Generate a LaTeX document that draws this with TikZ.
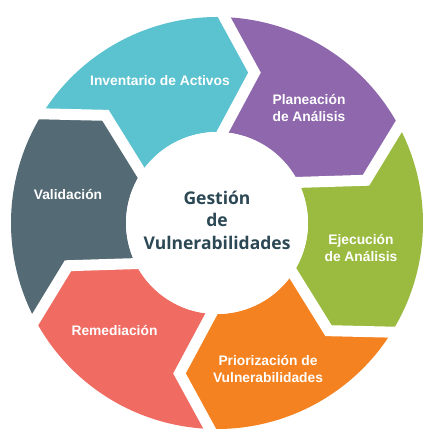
\documentclass[tikz,border=0pt]{standalone}
\usepackage{fontspec}
\setmainfont{Liberation Sans}
\newfontfamily\titlefont{Open Sans}
\usetikzlibrary{calc}
\definecolor{inventcol}{RGB}{91,194,208}
\definecolor{planecol}{RGB}{142,103,172}
\definecolor{ejeccol}{RGB}{155,187,64}
\definecolor{priocol}{RGB}{245,130,32}
\definecolor{remedcol}{RGB}{240,107,98}
\definecolor{validcol}{RGB}{84,106,116}
\definecolor{titlecol}{RGB}{44,72,85}
\begin{document}
\begin{tikzpicture}[x=1pt,y=1pt,
  seglbl/.style={text=white,align=center,font=\bfseries\fontsize{13.8}{17.5}\selectfont},
  gap/.style={white,line width=11pt,line join=miter,line cap=rect}]
\useasboundingbox (-217,-224) rectangle (213,223);
% ring segments, clockwise
\fill[inventcol] (148:206) arc[start angle=148,end angle=88,radius=206] -- (76:155) -- (86.5:91) arc[start angle=86.5,end angle=146.5,radius=91] -- (136:155) -- cycle;
\fill[planecol] (88:206) arc[start angle=88,end angle=28,radius=206] -- (16:155) -- (26.5:91) arc[start angle=26.5,end angle=86.5,radius=91] -- (76:155) -- cycle;
\fill[ejeccol] (28:206) arc[start angle=28,end angle=-32,radius=206] -- (-44:155) -- (-33.5:91) arc[start angle=-33.5,end angle=26.5,radius=91] -- (16:155) -- cycle;
\fill[priocol] (-32:206) arc[start angle=-32,end angle=-92,radius=206] -- (-104:155) -- (-93.5:91) arc[start angle=-93.5,end angle=-33.5,radius=91] -- (-44:155) -- cycle;
\fill[remedcol] (-92:206) arc[start angle=-92,end angle=-152,radius=206] -- (-164:155) -- (-153.5:91) arc[start angle=-153.5,end angle=-93.5,radius=91] -- (-104:155) -- cycle;
\fill[validcol] (-152:206) arc[start angle=-152,end angle=-212,radius=206] -- (-224:155) -- (-213.5:91) arc[start angle=-213.5,end angle=-153.5,radius=91] -- (-164:155) -- cycle;
%
% white gaps between segments
\draw[gap] (88:206) -- (76:155) -- (86.5:91);
\draw[gap] (28:206) -- (16:155) -- (26.5:91);
\draw[gap] (-32:206) -- (-44:155) -- (-33.5:91);
\draw[gap] (-92:206) -- (-104:155) -- (-93.5:91);
\draw[gap] (-152:206) -- (-164:155) -- (-153.5:91);
\draw[gap] (148:206) -- (136:155) -- (146.5:91);
\fill[white] (0,0) circle (91);
%
\node[seglbl] (inventario) at (-57,142) {Inventario de Activos};
\node[seglbl] (planeacion) at (92,115) {Planeación\\de Análisis};
\node[seglbl] (ejecucion) at (144,-25) {Ejecución\\de Análisis};
\node[seglbl] (priorizacion) at (51,-146) {Priorización de\\Vulnerabilidades};
\node[seglbl] (remediacion) at (-102.5,-108) {Remediación};
\node[seglbl] (validacion) at (-149,28) {Validación};
\node[text=titlecol,align=center,font=\titlefont\bfseries\fontsize{17.5}{22.5}\selectfont] (gestion) at (0,3) {Gestión\\de\\Vulnerabilidades};
\end{tikzpicture}
\end{document}
